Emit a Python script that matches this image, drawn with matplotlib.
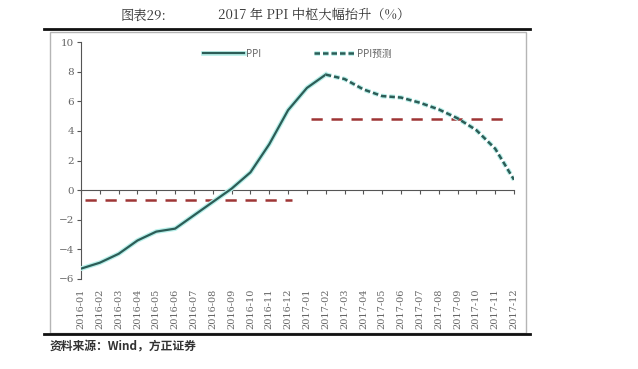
import matplotlib.pyplot as plt
import matplotlib.patheffects as pe
from matplotlib.patches import Rectangle
from matplotlib.lines import Line2D

plt.rcParams['font.family'] = ['Noto Sans CJK SC', 'DejaVu Sans']

# data
months = ['2016-01', '2016-02', '2016-03', '2016-04', '2016-05', '2016-06',
          '2016-07', '2016-08', '2016-09', '2016-10', '2016-11', '2016-12',
          '2017-01', '2017-02', '2017-03', '2017-04', '2017-05', '2017-06',
          '2017-07', '2017-08', '2017-09', '2017-10', '2017-11', '2017-12']
ppi = [-5.3, -4.9, -4.3, -3.4, -2.8, -2.6, -1.7, -0.8, 0.1, 1.2, 3.1, 5.4, 6.9, 7.8]
ppi_forecast = [7.8, 7.5, 6.8, 6.35, 6.25, 5.9, 5.45, 4.85, 4.05, 2.8, 0.7]
avg_2016 = -0.68
avg_2017 = 4.82

W, H = 638, 369
fig = plt.figure(figsize=(W / 100, H / 100), dpi=100)
fig.patch.set_facecolor('white')

# outer gray frame and heavy rules
fig.patches.append(Rectangle((50 / W, 1 - 333 / H), 476 / W, 301 / H, transform=fig.transFigure,
                             fill=False, edgecolor='#b5b5b5', linewidth=1.0))
fig.lines.append(Line2D([44 / W, 530 / W], [1 - 29 / H, 1 - 29 / H], transform=fig.transFigure,
                        color='#111111', linewidth=2.0))
fig.lines.append(Line2D([44 / W, 530 / W], [1 - 334 / H, 1 - 334 / H], transform=fig.transFigure,
                        color='#111111', linewidth=2.0))

fig.text(121 / W, 1 - 16 / H, '图表29:', fontsize=9.5, color='#333333', va='center',
         family=['Noto Serif CJK SC', 'Noto Sans CJK SC', 'DejaVu Serif'])
fig.text(218 / W, 1 - 16 / H, '2017 年 PPI 中枢大幅抬升（%）', fontsize=9.5, color='#333333',
         va='center', family=['Noto Serif CJK SC', 'Noto Sans CJK SC', 'DejaVu Serif'])
fig.text(50 / W, 1 - 347 / H, '资料来源：Wind，方正证券', fontsize=8.5, color='#333333',
         va='center', style='italic', fontweight='bold')

ax = fig.add_axes([81 / W, 1 - 279 / H, 433 / W, 237 / H])
ax.set_facecolor('none')

x_act = list(range(len(ppi)))
x_fc = list(range(len(ppi) - 1, len(months)))

glow = [pe.Stroke(linewidth=3.4, foreground='#b8f0ea'), pe.Normal()]
ax.plot(x_act, ppi, color='#2c5d57', linewidth=1.6, path_effects=glow, label='PPI', zorder=4)
ax.plot(x_fc, ppi_forecast, color='#2c5d57', linewidth=1.8, linestyle=(0, (2.2, 1.2)),
        path_effects=glow, label='PPI预测', zorder=4)

ax.plot([0.2, 11.2], [avg_2016, avg_2016], color='#9e3535', linewidth=1.8,
        linestyle=(0, (4.5, 3.5)), zorder=3)
ax.plot([12.2, 22.7], [avg_2017, avg_2017], color='#9e3535', linewidth=1.8,
        linestyle=(0, (4.5, 3.5)), zorder=3)

ax.set_xlim(0, len(months) - 1)
ax.set_ylim(-6, 10)
ax.set_yticks(range(-6, 11, 2))

for s in ['top', 'right']:
    ax.spines[s].set_visible(False)
ax.spines['left'].set_color('#555555')
ax.spines['bottom'].set_position(('data', 0))
ax.spines['bottom'].set_color('#555555')
ax.set_xticks(range(len(months)))
ax.tick_params(axis='x', direction='out', length=3, color='#555555', labelbottom=False)
ax.tick_params(axis='y', direction='out', length=3, color='#555555', labelsize=7.5,
               labelcolor='#666666', pad=2)
for lab in ax.get_yticklabels():
    lab.set_family('DejaVu Serif')

sec = ax.secondary_xaxis(0)
sec.set_xticks(range(len(months)))
sec.set_xticklabels(months, rotation=90, fontsize=7, color='#666666', family='DejaVu Serif')
sec.tick_params(length=0, pad=7)
sec.spines['bottom'].set_visible(False)

leg = ax.legend(loc='upper center', bbox_to_anchor=(0.5, 1.0), ncol=2, frameon=False,
                fontsize=7, labelcolor='#666666', handlelength=4.2, handletextpad=0.2,
                columnspacing=5.5, borderaxespad=0.3)

fig.savefig('out.png', dpi=100)
